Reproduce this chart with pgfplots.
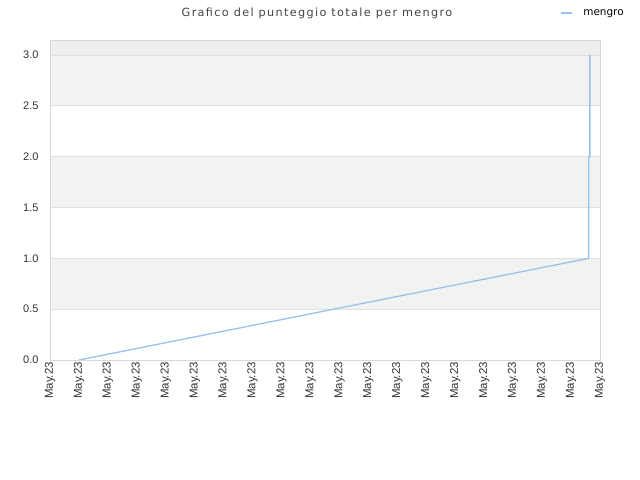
\documentclass[border=0pt]{standalone}
\usepackage{fontspec}
\usepackage{pgfplots}
\pgfplotsset{compat=1.18}
\setmainfont{Liberation Sans}
\newfontfamily\titlefont[LetterSpace=12]{DejaVu Sans}
\newfontfamily\legfont{DejaVu Sans}
\definecolor{lineblue}{RGB}{150,195,240}
\definecolor{bandgray}{RGB}{242,242,242}
\definecolor{topgray}{RGB}{238,238,238}
\definecolor{gridgray}{RGB}{224,224,224}
\definecolor{bordergray}{RGB}{216,216,216}
\definecolor{ticktext}{RGB}{51,51,51}
\definecolor{titletext}{RGB}{68,68,68}
\begin{document}
\begin{tikzpicture}
\path (0,0) rectangle (640bp,480bp);
\begin{axis}[
  set layers,
  scale only axis,
  width=550bp, height=320bp,
  at={(50bp,120bp)}, anchor=south west,
  xmin=0, xmax=19, ymin=0, ymax=3.147,
  xtick={0,...,19},
  xticklabels={May.23,May.23,May.23,May.23,May.23,May.23,May.23,May.23,May.23,May.23,May.23,May.23,May.23,May.23,May.23,May.23,May.23,May.23,May.23,May.23},
  xticklabel style={rotate=90, anchor=east, font=\fontsize{11.5}{13}\selectfont, text=ticktext, inner sep=2pt},
  ytick={0,0.5,1,1.5,2,2.5,3},
  yticklabel style={font=\fontsize{11}{12}\selectfont, text=ticktext, /pgf/number format/fixed, /pgf/number format/precision=1, /pgf/number format/fixed zerofill, /pgf/number format/assume math mode=true},
  yticklabel shift=8bp,
  major tick length=0pt,
  ymajorgrids,
  grid style={gridgray, line width=0.8bp},
  axis line style={bordergray, line width=0.8bp},
  legend style={at={(rel axis cs:1,1)}, anchor=center, xshift=-8bp, yshift=26.5bp, draw=none, fill=none, font=\legfont\fontsize{10.5}{12}\selectfont, inner sep=0pt, nodes={inner sep=0pt}, column sep=10bp},
  legend image code/.code={\draw[#1, line width=2bp] (0bp,0bp) -- (11bp,0bp);},
]
\begin{pgfonlayer}{axis background}
\fill[bandgray] (axis cs:0,0) rectangle (axis cs:19,3.147);
\fill[white] (axis cs:0,0) rectangle (axis cs:19,0.5);
\fill[white] (axis cs:0,1) rectangle (axis cs:19,1.5);
\fill[white] (axis cs:0,2) rectangle (axis cs:19,2.5);
\fill[topgray] (axis cs:0,3) rectangle (axis cs:19,3.147);
\end{pgfonlayer}
\addplot[lineblue, line width=1.3bp] coordinates {(1,0) (18.61,1) (18.61,2) (18.65,2) (18.65,3)};
\addlegendentry{mengro}
\end{axis}
\node[font=\titlefont\fontsize{11.3}{13}\selectfont, text=titletext] at (317bp,467bp) {Grafico del punteggio totale per mengro};
\end{tikzpicture}
\end{document}
